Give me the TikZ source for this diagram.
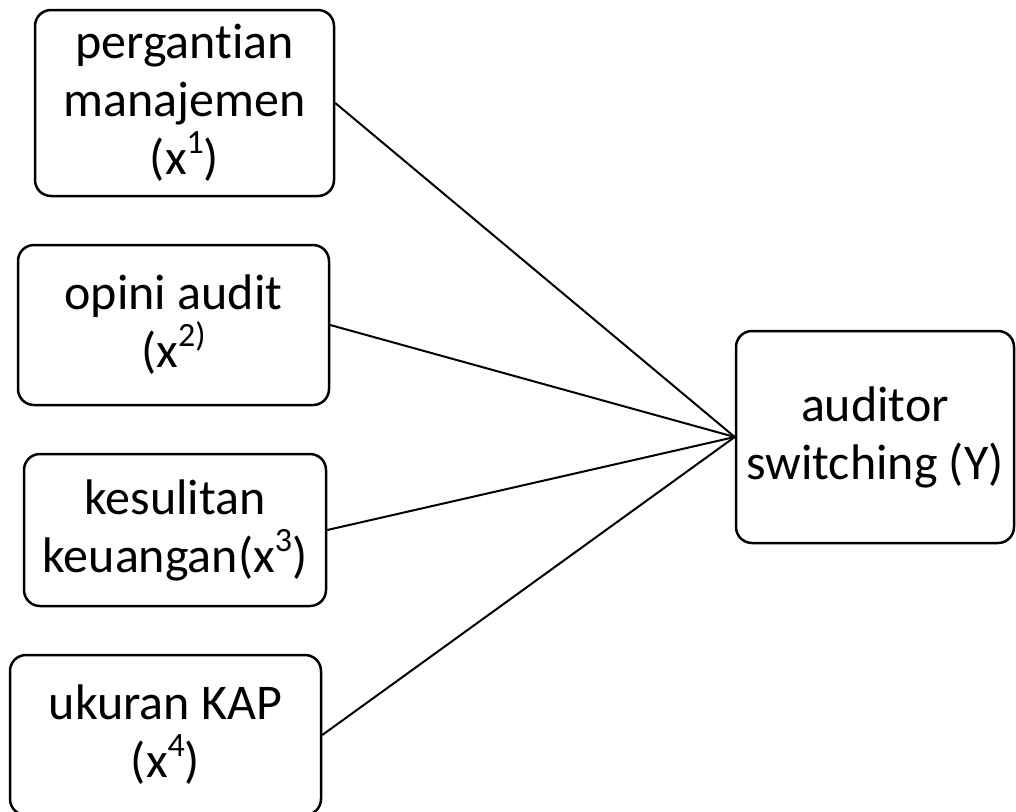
\documentclass[tikz,border=0pt]{standalone}
\usepackage{fontspec}
\setmainfont{Carlito}[Ligatures={NoCommon}]
\newcommand{\supx}[1]{\raisebox{0.42em}{\fontsize{34}{34}\selectfont #1}}
\begin{document}
\begin{tikzpicture}[x=1pt,y=-1pt,
  box/.style={draw=black, line width=2.5pt, rounded corners=16pt, inner sep=0pt,
    align=center, font=\fontsize{50}{58}\selectfont},
  link/.style={draw=black, line width=2pt}]
\useasboundingbox (0,0) rectangle (1016,811);
\node[box, minimum width=299pt, minimum height=186pt] (b1) at (184.5,103) {pergantian\\manajemen\\(x\supx{1})};
\node[box, minimum width=311pt, minimum height=160pt] (b2) at (173.5,325) {opini audit\\(x\supx{2)}};
\node[box, minimum width=302pt, minimum height=152pt] (b3) at (175,530) {kesulitan\\keuangan(x\supx{3})};
\node[box, minimum width=311pt, minimum height=160pt] (b4) at (165.5,735) {ukuran KAP\\(x\supx{4})};
\node[box, minimum width=278pt, minimum height=212pt] (y) at (875,437) {auditor\\switching (Y)};
\draw[link] (b1.east) -- (y.west);
\draw[link] (b2.east) -- (y.west);
\draw[link] (b3.east) -- (y.west);
\draw[link] (b4.east) -- (y.west);
\end{tikzpicture}
\end{document}
